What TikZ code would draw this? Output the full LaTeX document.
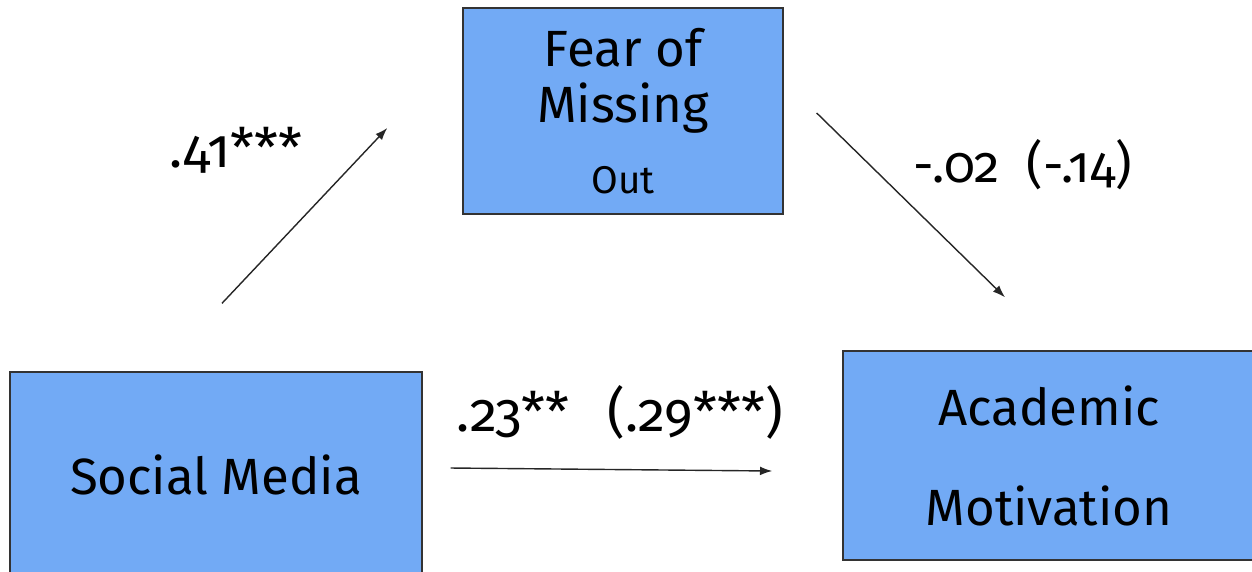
\documentclass[tikz,border=0pt]{standalone}
\usepackage{fontspec}
\setmainfont{Fira Sans}[Numbers=OldStyle]
\usetikzlibrary{arrows.meta, positioning, calc}

\definecolor{boxblue}{RGB}{114,170,245}

\begin{document}
\begin{tikzpicture}[
    every node/.style={font=\fontsize{29}{34}\selectfont},
    box/.style={
        rectangle,
        draw=black!80,
        fill=boxblue,
        line width=0.8pt,
        minimum width=8.24cm,
        minimum height=4.18cm,
        align=center,
        inner sep=0pt
    },
    arrow/.style={line width=0.8pt, color=black!85, -{Latex[length=7pt,width=5pt]}},
    coef/.style={inner sep=0pt, font=\fontsize{31}{34}\selectfont}
]
    \useasboundingbox (0,0) rectangle (25.04,-11.42);

    % Define nodes
    \node (fomo) [box, minimum width=6.4cm, minimum height=4.12cm] at (12.46,-2.22)
        {Fear of\\[-2pt]Missing\\[6pt]{\fontsize{22}{22}\selectfont Out}};
    \node (social) [box, minimum height=4.12cm] at (4.32,-9.5) {Social Media};
    \node (acad) [box, font=\fontsize{29}{57}\selectfont] at (20.98,-9.11) {Academic\\Motivation};

    % Free ends of the paths
    \coordinate (a_start) at ($(social.north)+(0.12,1.36)$);
    \coordinate (a_end) at ($(fomo.west)+(-1.5,-0.34)$);
    \coordinate (b_start) at ($(fomo.east)+(0.66,-0.04)$);
    \coordinate (b_end) at ($(acad.north)+(-0.88,1.06)$);
    \coordinate (c_start) at ($(social.east)+(0.56,0.14)$);
    \coordinate (c_end) at ($(acad.west)+(-1.4,-0.31)$);

    % Draw connections
    \draw [arrow] (a_start) -- (a_end);
    \draw [arrow] (b_start) -- (b_end);
    \draw [arrow] (c_start) -- (c_end);

    % Coefficients
    \node (a_coef) [coef] at (4.72,-3.0) {.41***};
    \node (b_coef) [coef, font=\fontsize{29}{34}\selectfont] at (20.46,-3.3) {-.02\ \ (-.14)};
    \node (c_coef) [coef] at (12.4,-8.24) {.23**\ \ \,(.29***)};

\end{tikzpicture}
\end{document}
